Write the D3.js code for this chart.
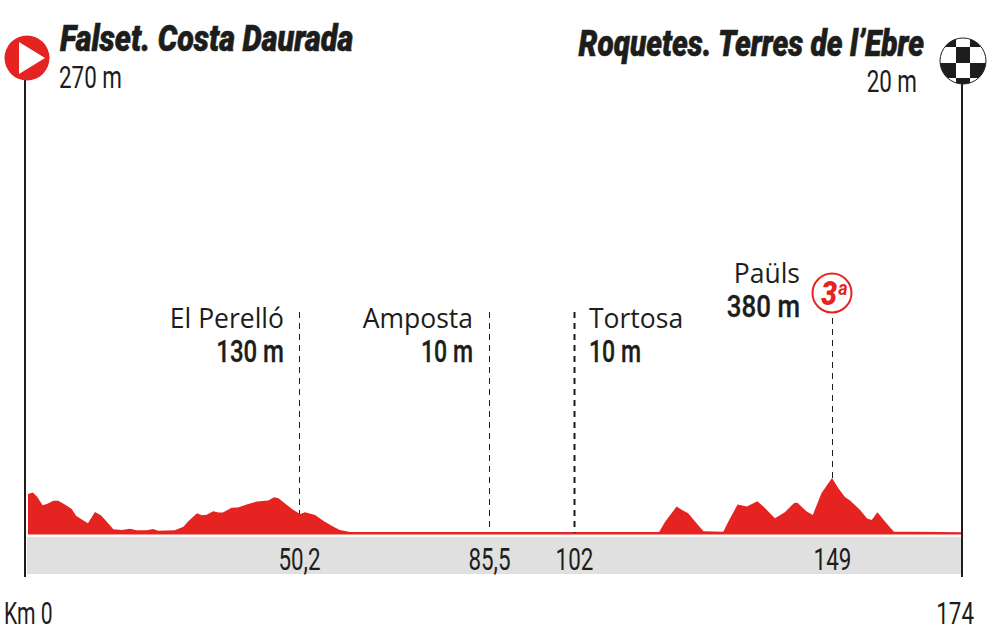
<!DOCTYPE html>
<html>
<head>
<meta charset="utf-8">
<script src="https://d3js.org/d3.v7.min.js"></script>
<style>
  html, body { margin: 0; padding: 0; background: #fff; }
  svg { display: block; }
</style>
</head>
<body>
<svg width="990" height="627"></svg>
<script>
// profile: km and metres
var profileKm = [0,0.9,1.7,2.7,3.5,4.7,5.6,6.9,8.1,8.9,9.9,11.1,12.4,13.5,14.6,15.8,17.4,18.9,20.1,22,23.2,24.1,27.2,28.8,29.6,31.3,32.2,33.1,34.3,35.3,36.1,37.7,38.9,40.5,42.4,44.5,45.6,46.4,47.9,49.1,50.4,51.3,53.2,54.7,56.6,57.8,59.7,85.5,102,117.5,118.6,120.7,121.6,122.8,124.4,125.6,129.2,130.1,131.8,133.5,135.4,136.5,138.6,140.4,142.1,142.7,144.4,145.5,147.1,149,150.2,151.5,152.5,154.4,155.8,156.7,157.8,159.3,161,164.1,169.9,174];
var profileM = [270,280,252,193,202,225,225,197,168,122,97,70,147,125,81,29,24,33,22,22,31,19,22,47,81,139,125,129,153,143,143,176,178,198,219,226,249,242,196,162,134,146,127,88,47,24,10,10,10,10,81,185,162,139,66,15,12,81,198,185,221,185,104,146,209,211,150,127,277,380,312,250,226,162,102,93,146,81,12,12,10,8];

var tickKm = [50.2,85.5,102,149];
var tickLabels = ["50,2","85,5","102","149"];
var placeNames = ["El Perelló","Amposta","Tortosa","Paüls"];
var placeHeights = ["130 m","10 m","10 m","380 m"];
var stageStart = "Falset. Costa Daurada", stageStartHeight = "270 m";
var stageEnd = "Roquetes. Terres de l’Ebre", stageEndHeight = "20 m";

var red = "#e52421", ink = "#1d1d1b";
var svg = d3.select("svg");

// the km axis of the original is not quite even, so it goes piece by piece
var x = d3.scaleLinear().domain([0,50.2,85.5,102,149,174]).range([28,299,489,574,832,961]);
var y = d3.scaleLinear().domain([0,380]).range([533.5,478]);

// squeezed text, no condensed fonts available
function label(str, px, py, o) {
    o = o || {};
    var g = svg.append("g").attr("transform", "translate(" + px + "," + py + ") scale(" + (o.sx || 1) + ",1)");
    return g.append("text")
        .attr("text-anchor", o.anchor || "start")
        .attr("font-family", o.font || "Roboto")
        .attr("font-size", o.size || 24)
        .attr("font-weight", o.weight || 400)
        .attr("font-style", o.style || "normal")
        .attr("fill", o.fill || ink)
        .attr("stroke", o.heavy ? (o.fill || ink) : "none")
        .attr("stroke-width", o.heavy || 0)
        .text(str);
}

// grey band
svg.append("rect").attr("x", 27).attr("y", 537).attr("width", 934).attr("height", 37).attr("fill", "#e0e0e0");

// profile
var area = d3.area()
    .x(function(d, i){ return x(profileKm[i]); })
    .y0(y(0) + 1)
    .y1(function(d){ return y(d); });
svg.append("path").datum(profileM).attr("d", area).attr("fill", red);

// dashed markers
var dashTop = [312,312,312,318];
var dashBottom = [514,531,533,478];
svg.selectAll(".mark").data(tickKm).enter().append("line")
    .attr("class", "mark")
    .attr("x1", function(d){ return x(d) + 0.5; })
    .attr("x2", function(d){ return x(d) + 0.5; })
    .attr("y1", function(d, i){ return dashTop[i]; })
    .attr("y2", function(d, i){ return dashBottom[i]; })
    .attr("stroke", ink)
    .attr("stroke-width", function(d, i){ return i == 2 ? 2 : 1; })
    .attr("stroke-dasharray", "6,5");

// start and finish posts
svg.append("line").attr("x1", 25).attr("x2", 25).attr("y1", 78).attr("y2", 577).attr("stroke", ink).attr("stroke-width", 2);
svg.append("line").attr("x1", 962).attr("x2", 962).attr("y1", 80).attr("y2", 577).attr("stroke", ink).attr("stroke-width", 2);

// start icon
svg.append("circle").attr("cx", 27).attr("cy", 58).attr("r", 22.5).attr("fill", red);
svg.append("path").attr("d", "M19,42L45,58L19,74Z").attr("fill", "#fff");

// finish icon
svg.append("clipPath").attr("id", "flag").append("circle").attr("cx", 963).attr("cy", 61).attr("r", 23);
var flag = svg.append("g").attr("clip-path", "url(#flag)");
flag.append("rect").attr("x", 940).attr("y", 38).attr("width", 46).attr("height", 46).attr("fill", "#fff");
// dark squares of the checker
[[939,38,17,9],[970,38,17,9],[956,47,14,16],[939,63,17,15],[970,63,17,15],[956,78,14,8]].forEach(function(s){
    flag.append("rect").attr("x", s[0]).attr("y", s[1]).attr("width", s[2]).attr("height", s[3]).attr("fill", ink);
});
svg.append("circle").attr("cx", 963).attr("cy", 61).attr("r", 23).attr("fill", "none").attr("stroke", ink).attr("stroke-width", 1);

// headers
label(stageStart, 60, 51, {size: 36, weight: 900, style: "italic", sx: 0.85, heavy: 0.6});
label(stageStartHeight, 59, 88, {size: 32, sx: 0.7});
label(stageEnd, 924, 56, {size: 36, weight: 900, style: "italic", sx: 0.83, anchor: "end", heavy: 0.6});
label(stageEndHeight, 917, 92, {size: 32, sx: 0.7, anchor: "end"});

// place labels
var placeX = [284,473,589,800];
var placeAnchor = ["end","end","start","end"];
var placeY = [328,328,328,283];
var heightSx = [0.75,0.72,0.72,0.81];
placeNames.forEach(function(name, i){
    label(name, placeX[i], placeY[i], {font: "Open Sans", size: 26.5, anchor: placeAnchor[i]});
    label(placeHeights[i], placeX[i], placeY[i] + 34, {size: 32, weight: 500, sx: heightSx[i], anchor: placeAnchor[i], heavy: 0.3});
});

// climb category
svg.append("circle").attr("cx", x(149)).attr("cy", 293).attr("r", 19.5).attr("fill", "#fff").attr("stroke", red).attr("stroke-width", 2);
label("3", 829, 305, {size: 33, weight: 900, style: "italic", sx: 0.85, anchor: "middle", fill: red});
label("a", 843, 295, {size: 20, weight: 700, style: "italic", sx: 0.9, anchor: "middle", fill: red});

// km axis
var axis = d3.axisBottom(x).tickValues(tickKm).tickSize(0).tickFormat(function(d, i){ return tickLabels[i]; });
var axisG = svg.append("g").attr("transform", "translate(0,570)").call(axis);
axisG.select(".domain").remove();
axisG.selectAll("text")
    .attr("y", 0).attr("dy", 0)
    .attr("font-family", "Roboto").attr("font-size", 32)
    .attr("fill", ink)
    .attr("transform", "scale(0.7,1)");

label("Km 0", 4, 624, {size: 32, sx: 0.66});
label("174", 974, 624, {size: 32, sx: 0.7, anchor: "end"});
</script>
</body>
</html>
